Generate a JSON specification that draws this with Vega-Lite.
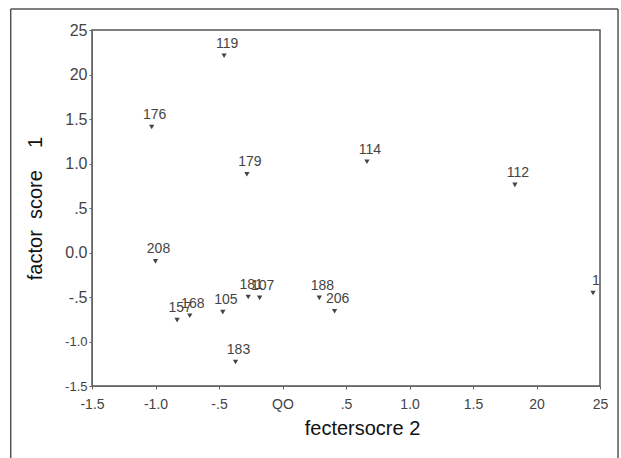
{
  "$schema": "https://vega.github.io/schema/vega-lite/v6.json",
  "width": 508,
  "height": 356,
  "autosize": {"type": "none"},
  "padding": {"left": 92, "top": 30, "right": 21, "bottom": 72},
  "background": "white",
  "config": {
    "view": {"stroke": "#555", "strokeWidth": 1.5},
    "axis": {
      "grid": false,
      "labelFont": "Liberation Sans",
      "labelFontSize": 14,
      "labelColor": "#444",
      "domainColor": "#666",
      "tickColor": "#666",
      "tickSize": 3,
      "titleFont": "Liberation Sans",
      "titleFontWeight": "normal",
      "titleColor": "#111"
    }
  },
  "data": {
    "values": [
      {"fs2": -0.46, "fs1": 2.21, "id": "119"},
      {"fs2": -1.03, "fs1": 1.41, "id": "176"},
      {"fs2": -0.28, "fs1": 0.88, "id": "179"},
      {"fs2": 0.665, "fs1": 1.02, "id": "114"},
      {"fs2": 1.83, "fs1": 0.76, "id": "112"},
      {"fs2": -1.0, "fs1": -0.1, "id": "208"},
      {"fs2": -0.83, "fs1": -0.76, "id": "157"},
      {"fs2": -0.73, "fs1": -0.71, "id": "168"},
      {"fs2": -0.47, "fs1": -0.67, "id": "105"},
      {"fs2": -0.27, "fs1": -0.5, "id": "181"},
      {"fs2": -0.18, "fs1": -0.51, "id": "107"},
      {"fs2": 0.29, "fs1": -0.51, "id": "188"},
      {"fs2": 0.41, "fs1": -0.66, "id": "206"},
      {"fs2": 2.445, "fs1": -0.455, "id": "1"},
      {"fs2": -0.37, "fs1": -1.23, "id": "183"}
    ]
  },
  "layer": [
    {
      "data": {"values": [{"edge": "left"}]},
      "mark": {"type": "rule", "stroke": "#555", "strokeWidth": 1.5, "clip": false},
      "encoding": {
        "x": {"datum": -2.14, "type": "quantitative", "scale": {"domain": [-1.5, 2.5], "nice": false, "zero": false}},
        "y": {"datum": 2.736, "type": "quantitative", "scale": {"domain": [-1.5, 2.5], "nice": false, "zero": false}},
        "y2": {"datum": -2.6}
      }
    },
    {
      "data": {"values": [{"edge": "right"}]},
      "mark": {"type": "rule", "stroke": "#555", "strokeWidth": 1.5, "clip": false},
      "encoding": {
        "x": {"datum": 2.642, "type": "quantitative"},
        "y": {"datum": 2.736, "type": "quantitative"},
        "y2": {"datum": -2.6}
      }
    },
    {
      "data": {"values": [{"edge": "top"}]},
      "mark": {"type": "rule", "stroke": "#555", "strokeWidth": 1.5, "clip": false},
      "encoding": {
        "x": {"datum": -2.14, "type": "quantitative"},
        "x2": {"datum": 2.642},
        "y": {"datum": 2.736, "type": "quantitative"}
      }
    },
    {
      "mark": {"type": "point", "shape": "triangle-down", "filled": true, "size": 28, "color": "#444", "opacity": 1},
      "encoding": {
        "x": {
          "field": "fs2", "type": "quantitative",
          "scale": {"domain": [-1.5, 2.5], "nice": false, "zero": false},
          "axis": {
            "values": [-1.5, -1, -0.5, 0, 0.5, 1, 1.5, 2, 2.5],
            "labelExpr": "datum.value == 0 ? 'QO' : datum.value == 2 ? '20' : datum.value == 2.5 ? '25' : datum.value == 0.5 ? '.5' : datum.value == -0.5 ? '-.5' : datum.value == 1 ? '1.0' : datum.value == -1 ? '-1.0' : datum.value == 1.5 ? '1.5' : '-1.5'",
            "labelPadding": 8,
            "labelFlush": false,
            "title": "fectersocre 2",
            "titleFontSize": 20,
            "titleX": 270,
            "titleY": 32
          }
        },
        "y": {
          "field": "fs1", "type": "quantitative",
          "scale": {"domain": [-1.5, 2.5], "nice": false, "zero": false},
          "axis": {
            "values": [-1.5, -1, -0.5, 0, 0.5, 1, 1.5, 2, 2.5],
            "labelExpr": "datum.value == 0 ? '0.0' : datum.value == 2 ? '20' : datum.value == 2.5 ? '25' : datum.value == 0.5 ? '.5' : datum.value == -0.5 ? '-.5' : datum.value == 1 ? '1.0' : datum.value == -1 ? '-1.0' : datum.value == 1.5 ? '1.5' : '-1.5'",
            "labelPadding": 2,
            "labelFontSize": {"expr": "datum.value < -0.75 ? 13 : 16"},
            "labelFlush": false,
            "title": "factor\u00a0\u00a0score\u00a0\u00a0\u00a0\u00a01",
            "titleFontSize": 20,
            "titleX": -47,
            "titleAngle": -90
          }
        }
      }
    },
    {
      "mark": {"type": "text", "font": "Liberation Sans", "fontSize": 14, "letterSpacing": -2.5, "dy": -12, "dx": 3, "color": "#444"},
      "encoding": {
        "x": {"field": "fs2", "type": "quantitative"},
        "y": {"field": "fs1", "type": "quantitative"},
        "text": {"field": "id"}
      }
    }
  ]
}
